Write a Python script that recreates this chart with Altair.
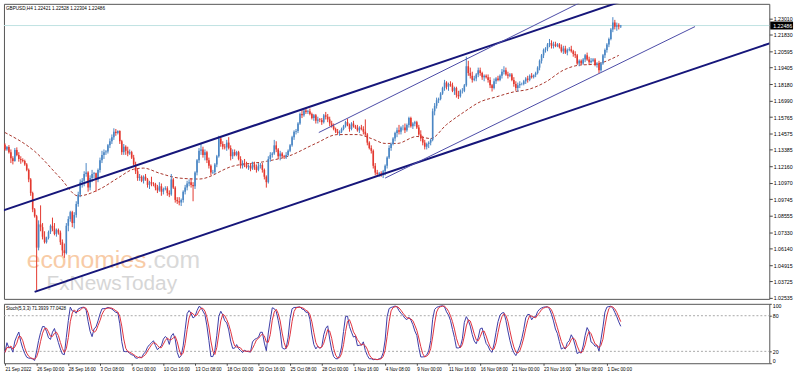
import altair as alt
import pandas as pd
import numpy as np

# ---------------- data (GBPUSD H4, 21 Sep 2022 08:00 -> 2 Dec 2022 04:00) ----------------
opens = [
 1.1375,1.1340,1.1358,1.1320,
 1.1275,1.1255,1.1335,1.1300,1.1270,1.1262,
 1.1255,1.1230,1.1190,1.1120,1.1020,1.0900,
 1.0850,1.0620,1.0790,1.0770,1.0700,1.0660,
 1.0690,1.0735,1.0780,1.0760,1.0720,1.0750,
 1.0730,1.0660,1.0600,1.0580,1.0780,1.0830,
 1.0880,1.0800,1.0860,1.0940,1.1010,1.1100,
 1.1110,1.1160,1.1170,1.1060,1.1130,1.1160,
 1.1165,1.1120,1.1190,1.1260,1.1300,1.1320,
 1.1325,1.1370,1.1400,1.1430,1.1470,1.1460,
 1.1475,1.1400,1.1320,1.1360,1.1330,1.1310,
 1.1320,1.1280,1.1230,1.1180,1.1130,1.1140,
 1.1110,1.1140,1.1120,1.1080,1.1100,1.1090,
 1.1085,1.1060,1.1040,1.1070,1.1030,1.1050,
 1.1055,1.1020,1.1010,1.1120,1.1060,1.0970,
 1.0960,1.0950,1.0970,1.1030,1.1060,1.1090,
 1.1100,1.1080,1.1070,1.1170,1.1260,1.1330,
 1.1340,1.1300,1.1320,1.1260,1.1220,1.1170,
 1.1175,1.1230,1.1290,1.1420,1.1380,1.1360,
 1.1355,1.1390,1.1350,1.1290,1.1320,1.1300,
 1.1320,1.1270,1.1220,1.1240,1.1230,1.1210,
 1.1220,1.1200,1.1230,1.1210,1.1190,1.1220,
 1.1225,1.1190,1.1140,1.1100,1.1270,1.1300,
 1.1310,1.1370,1.1340,1.1290,1.1310,1.1290,
 1.1285,1.1300,1.1330,1.1370,1.1430,1.1470,
 1.1475,1.1530,1.1600,1.1590,1.1625,1.1615,
 1.1620,1.1600,1.1570,1.1590,1.1550,1.1560,
 1.1555,1.1540,1.1590,1.1580,1.1560,1.1530,
 1.1510,1.1490,1.1470,1.1460,1.1470,1.1490,
 1.1510,1.1540,1.1520,1.1490,1.1530,1.1510,
 1.1500,1.1480,1.1500,1.1490,1.1470,1.1450,
 1.1390,1.1350,1.1330,1.1220,1.1170,1.1160,
 1.1165,1.1160,1.1180,1.1220,1.1280,1.1350,
 1.1380,1.1420,1.1460,1.1480,1.1470,1.1500,
 1.1500,1.1480,1.1520,1.1570,1.1510,1.1530,
 1.1540,1.1500,1.1450,1.1420,1.1390,1.1360,
 1.1380,1.1390,1.1410,1.1620,1.1660,1.1700,
 1.1710,1.1750,1.1790,1.1830,1.1800,1.1820,
 1.1810,1.1770,1.1790,1.1740,1.1730,1.1770,
 1.1770,1.1810,1.1950,1.1900,1.1880,1.1850,
 1.1860,1.1890,1.1920,1.1900,1.1870,1.1880,
 1.1870,1.1850,1.1810,1.1790,1.1840,1.1860,
 1.1850,1.1880,1.1910,1.1920,1.1890,1.1880,
 1.1890,1.1850,1.1820,1.1790,1.1810,1.1820,
 1.1820,1.1840,1.1860,1.1850,1.1880,1.1870,
 1.1885,1.1900,1.1940,1.1990,1.2030,1.2070,
 1.2080,1.2110,1.2120,1.2100,1.2110,1.2100,
 1.2110,1.2090,1.2060,1.2080,1.2050,1.2070,
 1.2075,1.2060,1.2040,1.2030,1.1970,1.1990,
 1.1970,1.2000,1.2030,1.2000,1.1980,1.1990,
 1.2000,1.1960,1.1970,1.1920,1.1970,1.2030,
 1.2070,1.2110,1.2150,1.2220,1.2270,1.2240,
 1.2250,1.22421]
highs = [
 1.1385,1.1365,1.1372,1.1340,
 1.1290,1.1350,1.1355,1.1320,1.1290,1.1275,
 1.1265,1.1240,1.1200,1.1130,1.1030,1.0910,
 1.0860,1.0820,1.0930,1.0800,1.0740,1.0700,
 1.0745,1.0790,1.0840,1.0800,1.0760,1.0760,
 1.0745,1.0680,1.0650,1.0800,1.0850,1.0890,
 1.0890,1.0880,1.0960,1.1030,1.1120,1.1130,
 1.1180,1.1240,1.1180,1.1150,1.1190,1.1175,
 1.1170,1.1200,1.1280,1.1330,1.1340,1.1335,
 1.1380,1.1420,1.1450,1.1495,1.1490,1.1480,
 1.1480,1.1410,1.1380,1.1370,1.1360,1.1340,
 1.1330,1.1300,1.1250,1.1200,1.1160,1.1150,
 1.1150,1.1160,1.1130,1.1110,1.1140,1.1100,
 1.1095,1.1080,1.1100,1.1090,1.1060,1.1070,
 1.1070,1.1040,1.1160,1.1130,1.1070,1.0990,
 1.0990,1.0980,1.1040,1.1080,1.1110,1.1120,
 1.1130,1.1100,1.1180,1.1270,1.1350,1.1380,
 1.1360,1.1340,1.1330,1.1280,1.1230,1.1190,
 1.1240,1.1300,1.1440,1.1430,1.1400,1.1380,
 1.1410,1.1430,1.1370,1.1340,1.1340,1.1330,
 1.1330,1.1290,1.1260,1.1270,1.1250,1.1230,
 1.1240,1.1250,1.1250,1.1230,1.1240,1.1240,
 1.1240,1.1200,1.1150,1.1290,1.1320,1.1320,
 1.1410,1.1400,1.1350,1.1330,1.1320,1.1300,
 1.1320,1.1340,1.1380,1.1440,1.1480,1.1490,
 1.1540,1.1610,1.1630,1.1640,1.1645,1.1630,
 1.1640,1.1610,1.1600,1.1600,1.1580,1.1570,
 1.1570,1.1600,1.1615,1.1600,1.1580,1.1550,
 1.1530,1.1500,1.1490,1.1480,1.1500,1.1520,
 1.1550,1.1565,1.1530,1.1540,1.1550,1.1520,
 1.1520,1.1510,1.1520,1.1510,1.1560,1.1460,
 1.1400,1.1370,1.1340,1.1240,1.1190,1.1175,
 1.1180,1.1190,1.1230,1.1290,1.1370,1.1390,
 1.1430,1.1470,1.1500,1.1520,1.1510,1.1520,
 1.1530,1.1530,1.1580,1.1580,1.1540,1.1550,
 1.1550,1.1520,1.1480,1.1440,1.1410,1.1390,
 1.1400,1.1420,1.1640,1.1680,1.1720,1.1720,
 1.1760,1.1800,1.1850,1.1840,1.1830,1.1840,
 1.1830,1.1800,1.1800,1.1770,1.1780,1.1790,
 1.1820,1.2020,1.1990,1.1940,1.1910,1.1880,
 1.1900,1.1940,1.1940,1.1910,1.1890,1.1890,
 1.1890,1.1870,1.1820,1.1860,1.1870,1.1880,
 1.1890,1.1930,1.1950,1.1940,1.1910,1.1900,
 1.1900,1.1870,1.1840,1.1830,1.1840,1.1830,
 1.1850,1.1870,1.1880,1.1890,1.1900,1.1890,
 1.1910,1.1950,1.2000,1.2040,1.2080,1.2090,
 1.2120,1.2150,1.2140,1.2130,1.2130,1.2120,
 1.2120,1.2110,1.2100,1.2100,1.2080,1.2090,
 1.2100,1.2070,1.2060,1.2040,1.2000,1.2000,
 1.2010,1.2040,1.2050,1.2020,1.2010,1.2010,
 1.2010,1.1980,1.1990,1.1980,1.2040,1.2080,
 1.2120,1.2160,1.2230,1.2310,1.2290,1.2270,
 1.2265,1.22528]
lows = [
 1.1330,1.1330,1.1310,1.1240,
 1.1230,1.1250,1.1290,1.1250,1.1235,1.1245,
 1.1220,1.1180,1.1100,1.1000,1.0880,1.0840,
 1.0305,1.0600,1.0740,1.0680,1.0650,1.0650,
 1.0680,1.0720,1.0740,1.0710,1.0700,1.0715,
 1.0640,1.0560,1.0545,1.0570,1.0740,1.0810,
 1.0770,1.0760,1.0840,1.0920,1.0990,1.1060,
 1.1070,1.1140,1.1030,1.1040,1.1100,1.1130,
 1.1030,1.1100,1.1170,1.1240,1.1270,1.1300,
 1.1310,1.1350,1.1380,1.1410,1.1440,1.1450,
 1.1380,1.1300,1.1300,1.1300,1.1290,1.1300,
 1.1270,1.1220,1.1160,1.1110,1.1110,1.1100,
 1.1090,1.1110,1.1060,1.1050,1.1070,1.1070,
 1.1040,1.1020,1.1030,1.1000,1.1010,1.1040,
 1.1000,1.0990,1.1000,1.1050,1.0950,1.0940,
 1.0930,1.0925,1.0950,1.1010,1.1040,1.1070,
 1.1060,1.0960,1.1050,1.1150,1.1240,1.1300,
 1.1280,1.1260,1.1240,1.1200,1.1150,1.1160,
 1.1160,1.1210,1.1280,1.1360,1.1340,1.1340,
 1.1330,1.1340,1.1260,1.1270,1.1290,1.1290,
 1.1260,1.1200,1.1200,1.1210,1.1200,1.1190,
 1.1180,1.1190,1.1190,1.1170,1.1180,1.1200,
 1.1170,1.1120,1.1060,1.1090,1.1250,1.1280,
 1.1300,1.1320,1.1270,1.1260,1.1280,1.1270,
 1.1270,1.1290,1.1320,1.1360,1.1410,1.1450,
 1.1460,1.1520,1.1570,1.1580,1.1600,1.1600,
 1.1590,1.1560,1.1550,1.1530,1.1530,1.1540,
 1.1520,1.1530,1.1560,1.1540,1.1510,1.1500,
 1.1480,1.1460,1.1450,1.1440,1.1460,1.1480,
 1.1500,1.1510,1.1470,1.1480,1.1500,1.1490,
 1.1470,1.1460,1.1480,1.1450,1.1440,1.1370,
 1.1340,1.1310,1.1200,1.1150,1.1145,1.1140,
 1.1140,1.1130,1.1150,1.1200,1.1270,1.1330,
 1.1370,1.1400,1.1430,1.1450,1.1450,1.1480,
 1.1460,1.1470,1.1500,1.1500,1.1490,1.1510,
 1.1490,1.1440,1.1400,1.1370,1.1340,1.1340,
 1.1350,1.1370,1.1400,1.1590,1.1640,1.1680,
 1.1700,1.1740,1.1770,1.1780,1.1770,1.1800,
 1.1760,1.1740,1.1720,1.1710,1.1720,1.1750,
 1.1760,1.1800,1.1880,1.1860,1.1830,1.1840,
 1.1840,1.1870,1.1880,1.1850,1.1840,1.1860,
 1.1830,1.1790,1.1765,1.1780,1.1820,1.1840,
 1.1840,1.1860,1.1890,1.1880,1.1860,1.1870,
 1.1840,1.1800,1.1770,1.1765,1.1790,1.1810,
 1.1810,1.1820,1.1830,1.1840,1.1860,1.1860,
 1.1870,1.1890,1.1920,1.1970,1.2010,1.2050,
 1.2060,1.2090,1.2080,1.2080,1.2090,1.2090,
 1.2080,1.2050,1.2040,1.2040,1.2030,1.2060,
 1.2050,1.2020,1.2010,1.1960,1.1950,1.1960,
 1.1960,1.1980,1.1990,1.1960,1.1970,1.1980,
 1.1950,1.1940,1.1900,1.1910,1.1960,1.2010,
 1.2050,1.2090,1.2140,1.2200,1.2220,1.2210,
 1.2220,1.22304]
closes = [
 1.1340,1.1358,1.1320,1.1275,
 1.1255,1.1335,1.1300,1.1270,1.1262,1.1255,
 1.1230,1.1190,1.1120,1.1020,1.0900,1.0850,
 1.0620,1.0790,1.0770,1.0700,1.0660,1.0690,
 1.0735,1.0780,1.0760,1.0720,1.0750,1.0730,
 1.0660,1.0600,1.0580,1.0780,1.0830,1.0880,
 1.0800,1.0860,1.0940,1.1010,1.1100,1.1110,
 1.1160,1.1170,1.1060,1.1130,1.1160,1.1165,
 1.1120,1.1190,1.1260,1.1300,1.1320,1.1325,
 1.1370,1.1400,1.1430,1.1470,1.1460,1.1475,
 1.1400,1.1320,1.1360,1.1330,1.1310,1.1320,
 1.1280,1.1230,1.1180,1.1130,1.1140,1.1110,
 1.1140,1.1120,1.1080,1.1100,1.1090,1.1085,
 1.1060,1.1040,1.1070,1.1030,1.1050,1.1055,
 1.1020,1.1010,1.1120,1.1060,1.0970,1.0960,
 1.0950,1.0970,1.1030,1.1060,1.1090,1.1100,
 1.1080,1.1070,1.1170,1.1260,1.1330,1.1340,
 1.1300,1.1320,1.1260,1.1220,1.1170,1.1175,
 1.1230,1.1290,1.1420,1.1380,1.1360,1.1355,
 1.1390,1.1350,1.1290,1.1320,1.1300,1.1320,
 1.1270,1.1220,1.1240,1.1230,1.1210,1.1220,
 1.1200,1.1230,1.1210,1.1190,1.1220,1.1225,
 1.1190,1.1140,1.1100,1.1270,1.1300,1.1310,
 1.1370,1.1340,1.1290,1.1310,1.1290,1.1285,
 1.1300,1.1330,1.1370,1.1430,1.1470,1.1475,
 1.1530,1.1600,1.1590,1.1625,1.1615,1.1620,
 1.1600,1.1570,1.1590,1.1550,1.1560,1.1555,
 1.1540,1.1590,1.1580,1.1560,1.1530,1.1510,
 1.1490,1.1470,1.1460,1.1470,1.1490,1.1510,
 1.1540,1.1520,1.1490,1.1530,1.1510,1.1500,
 1.1480,1.1500,1.1490,1.1470,1.1450,1.1390,
 1.1350,1.1330,1.1220,1.1170,1.1160,1.1165,
 1.1160,1.1180,1.1220,1.1280,1.1350,1.1380,
 1.1420,1.1460,1.1480,1.1470,1.1500,1.1500,
 1.1480,1.1520,1.1570,1.1510,1.1530,1.1540,
 1.1500,1.1450,1.1420,1.1390,1.1360,1.1380,
 1.1390,1.1410,1.1620,1.1660,1.1700,1.1710,
 1.1750,1.1790,1.1830,1.1800,1.1820,1.1810,
 1.1770,1.1790,1.1740,1.1730,1.1770,1.1770,
 1.1810,1.1950,1.1900,1.1880,1.1850,1.1860,
 1.1890,1.1920,1.1900,1.1870,1.1880,1.1870,
 1.1850,1.1810,1.1790,1.1840,1.1860,1.1850,
 1.1880,1.1910,1.1920,1.1890,1.1880,1.1890,
 1.1850,1.1820,1.1790,1.1810,1.1820,1.1820,
 1.1840,1.1860,1.1850,1.1880,1.1870,1.1885,
 1.1900,1.1940,1.1990,1.2030,1.2070,1.2080,
 1.2110,1.2120,1.2100,1.2110,1.2100,1.2110,
 1.2090,1.2060,1.2080,1.2050,1.2070,1.2075,
 1.2060,1.2040,1.2030,1.1970,1.1990,1.1970,
 1.2000,1.2030,1.2000,1.1980,1.1990,1.2000,
 1.1960,1.1970,1.1920,1.1970,1.2030,1.2070,
 1.2110,1.2150,1.2220,1.2270,1.2240,1.2250,
 1.2242,1.22486]

# dashed moving average (bar index, price)
ma_bars = [0, 15, 28, 37, 48, 57, 65, 70, 78, 88, 98, 115, 132, 143, 157, 168, 178,
           185, 192, 198, 208, 215, 223, 232, 240, 248, 257, 265, 273, 282, 290, 298, 310]
ma_vals = [1.1464, 1.1326, 1.1130, 1.0999, 1.1050, 1.1130, 1.1195, 1.1203, 1.1166, 1.1130,
           1.1123, 1.1217, 1.1253, 1.1290, 1.1384, 1.1449, 1.1449, 1.1420, 1.1384, 1.1384,
           1.1435, 1.1420, 1.1522, 1.1616, 1.1689, 1.1725, 1.1762, 1.1783, 1.1834, 1.1921,
           1.1958, 1.1965, 1.2030]

# trend lines (anchor points: bar index, price)
line_names  = ["up_thick", "up_thick", "lo_thick", "lo_thick", "up_thin", "up_thin", "lo_thin", "lo_thin"]
line_kind   = ["thick", "thick", "thick", "thick", "thin", "thin", "thin", "thin"]
line_bars   = [-1.5, 318.5, 15.0, 386.5, 158.5, 293.5, 192.0, 348.5]
line_prices = [1.0890, 1.2461, 1.0295, 1.2120, 1.1464, 1.2439, 1.1130, 1.2241]

price_ticks = [1.23010, 1.21830, 1.20595, 1.19405, 1.18180, 1.16990, 1.15765, 1.14575,
               1.13385, 1.12160, 1.10970, 1.09745, 1.08555, 1.07330, 1.06140, 1.04915,
               1.03725, 1.02535]
last_price = 1.22486
x_label_bars = list(range(0, 305, 16))
x_labels = ["21 Sep 2022", "26 Sep 00:00", "28 Sep 16:00", "3 Oct 08:00", "6 Oct 00:00",
            "10 Oct 16:00", "13 Oct 08:00", "18 Oct 00:00", "20 Oct 16:00", "25 Oct 08:00",
            "28 Oct 00:00", "1 Nov 16:00", "4 Nov 08:00", "9 Nov 00:00", "11 Nov 16:00",
            "16 Nov 08:00", "21 Nov 00:00", "23 Nov 16:00", "28 Nov 08:00", "1 Dec 00:00"]

# ---------------- frames ----------------
n = len(closes)
df = pd.DataFrame({"bar": np.arange(n), "open": opens, "high": highs, "low": lows, "close": closes})

# Stochastic (5,3,3) computed from the candles, as the indicator does
H = pd.Series(highs); L = pd.Series(lows); C = pd.Series(closes)
hh = H.rolling(5, min_periods=1).max()
ll = L.rolling(5, min_periods=1).min()
num = (C - ll).rolling(3, min_periods=1).sum()
den = (hh - ll).rolling(3, min_periods=1).sum()
k = 100 * num / den
d = k.rolling(3, min_periods=1).mean()
stoch = pd.DataFrame({"bar": np.arange(n), "k": k, "d": d})

ma_df = pd.DataFrame({"bar": ma_bars, "price": ma_vals})
ln_df = pd.DataFrame({"name": line_names, "kind": line_kind, "bar": line_bars, "price": line_prices})

# ---------------- styling ----------------
W, H1, H2 = 773, 298, 60
FONT = "Liberation Sans"
BLUE, RED = "#4a86c4", "#e3382f"
NAVY, THIN = "#16167a", "#4a4aa6"

xs = alt.Scale(domain=[-0.5, 386.0], nice=False, zero=False)
ys = alt.Scale(domain=[1.02441, 1.24077], nice=False, zero=False)
ss = alt.Scale(domain=[0, 100], nice=False, zero=False)

yax = alt.Axis(orient="right", values=price_ticks, format=".5f", title=None, grid=False,
               domain=False, tickSize=3, tickColor="#444", labelFontSize=5.3, labelFont=FONT,
               labelColor="#000", labelPadding=1, labelOverlap=False)
sax = alt.Axis(orient="right", values=[0, 20, 80, 100], title=None, grid=False, domain=False,
               tickSize=2, tickColor="#444", labelFontSize=5.3, labelFont=FONT, labelColor="#000",
               labelPadding=1, labelFlush=True, labelOverlap=False)
expr = "[" + ",".join("'%s'" % s for s in x_labels) + "][round(datum.value/16)]"
xax = alt.Axis(values=x_label_bars, labelExpr=expr, labelAlign="left", title=None,
               grid=False, domain=False, tickSize=2, tickColor="#444", labelFontSize=4.6,
               labelFont=FONT, labelColor="#000", labelPadding=1, labelOverlap=False,
               labelFlush=False)

X = alt.X("bar:Q", scale=xs, axis=None)
candle_color = alt.condition("datum.close >= datum.open", alt.value(BLUE), alt.value(RED))

def wtext(txt, x, y, size, color):
    return alt.Chart(pd.DataFrame({"t": [txt]})).mark_text(
        align="left", baseline="alphabetic", font=FONT, fontSize=size, color=color
    ).encode(x=alt.value(x), y=alt.value(y), text="t:N")

wm1 = wtext("economies", 23, 267, 25, "#f8cba6")
wm2 = wtext(".com", 144, 267, 25, "#d9d9d9")
wm3 = wtext("FxNewsToday", 43, 289, 21, "#d6d6d6")

price_line = alt.Chart(pd.DataFrame({"p": [last_price]})).mark_rule(color="#bfe2e2", strokeWidth=1).encode(
    y=alt.Y("p:Q", scale=ys, axis=yax), x=alt.value(0), x2=alt.value(W))

ma = alt.Chart(ma_df).mark_line(color="#a8362c", strokeWidth=1, strokeDash=[3, 2],
                                interpolate="monotone").encode(
    x=X, y=alt.Y("price:Q", scale=ys, axis=yax))

wick = alt.Chart(df).mark_rule(strokeWidth=1).encode(
    x=X, y=alt.Y("low:Q", scale=ys, axis=yax), y2="high:Q", color=candle_color)
body = alt.Chart(df).mark_rule(strokeWidth=1.6, strokeCap="butt").encode(
    x=X, y=alt.Y("open:Q", scale=ys, axis=yax), y2="close:Q", color=candle_color)

thick = alt.Chart(ln_df).transform_filter("datum.kind == 'thick'").mark_line(
    color=NAVY, strokeWidth=2, clip=True).encode(
    x=X, y=alt.Y("price:Q", scale=ys, axis=yax), detail="name:N")
thin = alt.Chart(ln_df).transform_filter("datum.kind == 'thin'").mark_line(
    color=THIN, strokeWidth=1, clip=True).encode(
    x=X, y=alt.Y("price:Q", scale=ys, axis=yax), detail="name:N")

title_main = alt.Chart(pd.DataFrame({"t": ["GBPUSD,H4  1.22421 1.22528 1.22304 1.22486"]})).mark_text(
    align="left", baseline="middle", font=FONT, fontSize=4.7, color="#000").encode(
    x=alt.value(2), y=alt.value(5), text="t:N")

box = alt.Chart(pd.DataFrame({"p": [last_price]})).mark_rule(color="#000", strokeWidth=8, strokeCap="butt").encode(
    y=alt.Y("p:Q", scale=ys, axis=yax), x=alt.value(W + 1), x2=alt.value(W + 24))
box_t = alt.Chart(pd.DataFrame({"p": [last_price], "t": ["%.5f" % last_price]})).mark_text(
    align="left", baseline="middle", font=FONT, fontSize=5.3, color="#fff").encode(
    y=alt.Y("p:Q", scale=ys, axis=yax), x=alt.value(W + 4), text="t:N")

main = alt.layer(wm1, wm2, wm3, price_line, ma, wick, body, thick, thin, title_main, box, box_t).properties(
    width=W, height=H1)

# ---------------- stochastic panel ----------------
XS = alt.X("bar:Q", scale=xs, axis=xax)
levels = alt.Chart(pd.DataFrame({"lv": [20, 80]})).mark_rule(
    color="#a8a8a8", strokeWidth=1, strokeDash=[2, 2]).encode(
    y=alt.Y("lv:Q", scale=ss, axis=sax), x=alt.value(0), x2=alt.value(W))
kline = alt.Chart(stoch).mark_line(color="#3c3ca6", strokeWidth=1).encode(
    x=XS, y=alt.Y("k:Q", scale=ss, axis=sax))
dline = alt.Chart(stoch).mark_line(color="#e0323e", strokeWidth=1).encode(
    x=XS, y=alt.Y("d:Q", scale=ss, axis=sax))
title_st = alt.Chart(pd.DataFrame({"t": ["Stoch(5,3,3) 71.3939 77.0428"]})).mark_text(
    align="left", baseline="middle", font=FONT, fontSize=4.6, color="#000").encode(
    x=alt.value(2), y=alt.value(5), text="t:N")

lower = alt.layer(levels, kline, dline, title_st).properties(width=W, height=H2)

chart = alt.vconcat(main, lower, spacing=1).properties(
    padding={"left": 2, "top": 1, "right": 0, "bottom": 0}, background="#ffffff"
).configure_view(stroke="#555555", strokeWidth=1)

chart.save("out.html", embed_options={"renderer": "svg", "actions": False})
